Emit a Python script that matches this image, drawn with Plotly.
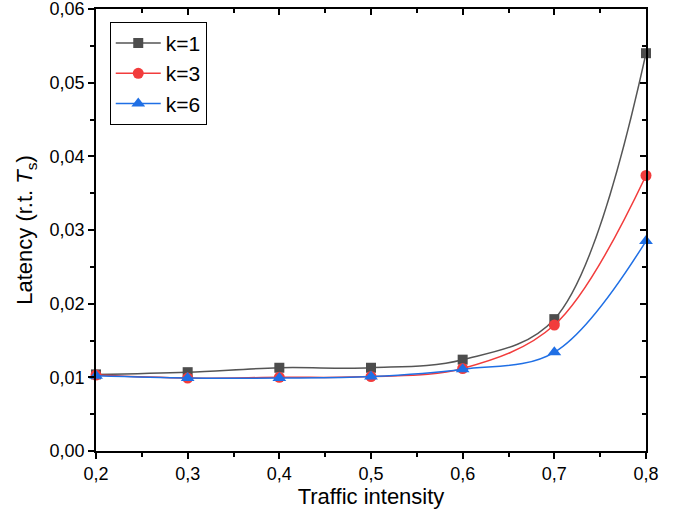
import plotly.graph_objects as go

x_vals = [0.2, 0.3, 0.4, 0.5, 0.6, 0.7, 0.8]
k1 = [0.0104, 0.0107, 0.0113, 0.0113, 0.0124, 0.0179, 0.0540]
k3 = [0.0103, 0.0099, 0.0100, 0.0101, 0.0112, 0.0171, 0.0374]
k6 = [0.0102, 0.0099, 0.0099, 0.0101, 0.0111, 0.0134, 0.0285]
series_names = ["k=1", "k=3", "k=6"]
x_ticks = [0.2, 0.3, 0.4, 0.5, 0.6, 0.7, 0.8]
x_minor = [0.25, 0.35, 0.45, 0.55, 0.65, 0.75]
y_ticks = [0, 0.01, 0.02, 0.03, 0.04, 0.05, 0.06]
y_minor = [0.005, 0.015, 0.025, 0.035, 0.045, 0.055]

FONT = "Liberation Sans, Arial, sans-serif"

fig = go.Figure()
styles = [
    (k1, "#4d4d4d", "#555555", "square", 10),
    (k3, "#f23c3c", "#f23c3c", "circle", 11),
    (k6, "#1f6fe5", "#1f6fe5", "triangle-up", 12),
]
for name, (ys, mc, lc, sym, ms) in zip(series_names, styles):
    fig.add_trace(go.Scatter(
        x=x_vals, y=ys, name=name, mode="lines+markers",
        line=dict(color=lc, width=1.5, shape="spline", smoothing=1.0),
        marker=dict(symbol=sym, size=ms, color=mc, line=dict(width=0)),
        cliponaxis=False,
    ))

axis_common = dict(showgrid=False, zeroline=False, linecolor="black", linewidth=1.5,
                   automargin=False, ticklabeloverflow="allow")
tick_common = dict(ticklen=6, tickwidth=1.5, tickcolor="black")

fig.update_layout(
    width=689, height=515,
    margin=dict(l=96, r=43, t=9, b=64),
    plot_bgcolor="white", paper_bgcolor="white",
    separators=",.",
    font=dict(family=FONT, size=18, color="black"),
    showlegend=True,
    legend=dict(
        x=0.025, y=0.971, xanchor="left", yanchor="top",
        bordercolor="black", borderwidth=1, bgcolor="white",
        font=dict(family=FONT, size=21), itemwidth=45,
        tracegroupgap=0,
    ),
    xaxis=dict(
        range=[0.2, 0.8], tickmode="array", tickvals=x_ticks,
        tickformat=".1f", ticks="outside", **tick_common,
        tickfont=dict(family=FONT, size=18),
        minor=dict(tickvals=x_minor, ticks="outside", ticklen=4, tickwidth=1.5, tickcolor="black"),
        title=dict(text="Traffic intensity", font=dict(family=FONT, size=22), standoff=4),
        mirror=True, **axis_common,
    ),
    yaxis=dict(
        range=[0, 0.06], tickmode="array", tickvals=y_ticks,
        tickformat=".2f", ticks="outside", **tick_common,
        tickfont=dict(family=FONT, size=18),
        minor=dict(tickvals=y_minor, ticks="outside", ticklen=4, tickwidth=1.5, tickcolor="black"),
        title=dict(text="Latency (r.t. <i>T</i><sub>s</sub>)", font=dict(family=FONT, size=22), standoff=11),
        mirror=True, **axis_common,
    ),
    xaxis2=dict(
        overlaying="x", side="top", matches="x", range=[0.2, 0.8],
        tickmode="array", tickvals=x_ticks,
        ticks="inside", **tick_common, showticklabels=False,
        minor=dict(tickvals=x_minor, ticks="inside", ticklen=4, tickwidth=1.5, tickcolor="black"),
        showgrid=False, zeroline=False, showline=False, automargin=False,
    ),
    yaxis2=dict(
        overlaying="y", side="right", range=[0, 0.06],
        tickmode="array", tickvals=y_ticks,
        ticks="inside", **tick_common, showticklabels=False,
        minor=dict(tickvals=y_minor, ticks="inside", ticklen=4, tickwidth=1.5, tickcolor="black"),
        showgrid=False, zeroline=False, showline=False, automargin=False,
    ),
)
# invisible trace to activate the mirrored tick axes
fig.add_trace(go.Scatter(x=[x_vals[0]], y=[k1[0]], xaxis="x2", yaxis="y2",
                         mode="markers", marker=dict(opacity=0), showlegend=False, hoverinfo="skip"))

fig.write_html("out.html")
